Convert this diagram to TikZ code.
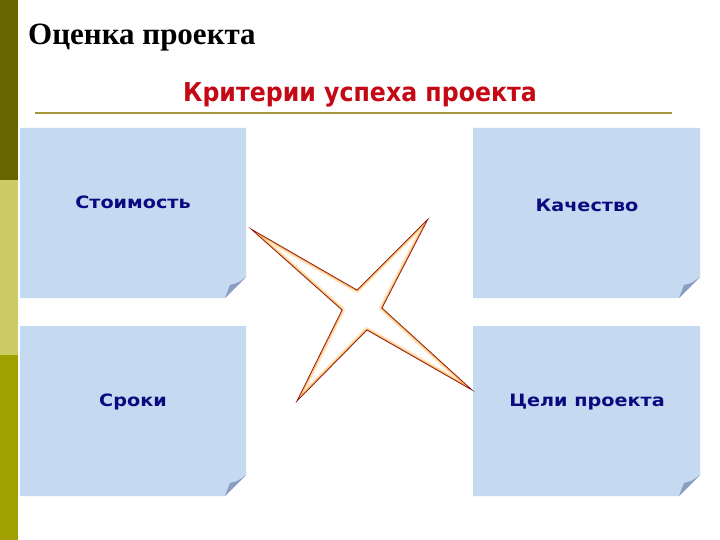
\documentclass[tikz,border=0pt]{standalone}
\usepackage{fontspec}
\setmainfont{Liberation Serif}
\newfontfamily\dvs{DejaVu Sans}
\usetikzlibrary{calc}
\definecolor{barA}{RGB}{102,102,0}
\definecolor{barB}{RGB}{204,204,102}
\definecolor{barC}{RGB}{160,160,0}
\definecolor{boxblue}{RGB}{197,217,241}
\definecolor{foldc}{RGB}{138,158,196}
\definecolor{rulec}{RGB}{168,150,60}
\definecolor{subred}{RGB}{196,8,20}
\definecolor{navy}{RGB}{10,10,128}
\definecolor{glow}{RGB}{255,176,80}
\definecolor{starline}{RGB}{130,20,20}
\tikzset{
  boxtext/.style={font=\dvs\bfseries\fontsize{17}{20}\selectfont, text=navy, inner sep=0pt},
  boxfill/.style={fill=boxblue},
  flap/.style={fill=foldc}
}
\newcommand{\foldbox}[5]{%
  % #1 name, #2 x1, #3 y1, #4 x2, #5 y2
  \coordinate (#1nw) at (#2,#3);
  \coordinate (#1se) at (#4,#5);
  \fill[boxfill] (#2,#3) -- (#4,#3) -- (#4,#5-21) -- (#4-21,#5) -- (#2,#5) -- cycle;
  \fill[flap] (#4-21,#5) -- (#4,#5-21) .. controls (#4-8,#5-15) .. (#4-16,#5-13) .. controls (#4-18,#5-8) .. cycle;
}
\begin{document}
\begin{tikzpicture}[x=1pt,y=-1pt]
\useasboundingbox (0,0) rectangle (720,540);
\fill[white] (0,0) rectangle (720,540);
% left bar
\fill[barA] (0,0) rectangle (18,180);
\fill[barB] (0,180) rectangle (18,355);
\fill[barC] (0,355) rectangle (18,540);
% title
\node[anchor=base west, inner sep=0pt, font=\bfseries\fontsize{31}{36}\selectfont] (title) at (28,45) {Оценка проекта};
% subtitle
\node[anchor=base west, inner sep=0pt, text=subred, font=\dvs\bfseries\fontsize{26}{30}\selectfont] (sub) at (183,102) {\scalebox{0.91}[1]{Критерии успеха проекта}};
\coordinate (ruleL) at (35,113);
\coordinate (ruleR) at (672,113);
\draw[rulec, line width=2pt] (ruleL) -- (ruleR);
% boxes
\foldbox{b1}{20}{128}{246}{298}
\foldbox{b2}{473}{128}{700}{298}
\foldbox{b3}{20}{326}{246}{496}
\foldbox{b4}{473}{326}{700}{496}
\node[boxtext] (t1) at (133,202) {\scalebox{1.13}[1]{Стоимость}};
\node[boxtext] (t2) at (587,205) {\scalebox{1.13}[1]{Качество}};
\node[boxtext] (t3) at (133,402) {\scalebox{1.13}[1]{Сроки}};
\node[boxtext] (t4) at (587,402) {\scalebox{1.13}[1]{Цели проекта}};
% star
\coordinate (s1) at (251,229);
\coordinate (s2) at (357,290);
\coordinate (s3) at (428,219);
\coordinate (s4) at (382,308);
\coordinate (s5) at (472,390);
\coordinate (s6) at (367,330);
\coordinate (s7) at (297,401);
\coordinate (s8) at (342,310);
\fill[white] (s1) -- (s2) -- (s3) -- (s4) -- (s5) -- (s6) -- (s7) -- (s8) -- cycle;
\begin{scope}
\clip (s1) -- (s2) -- (s3) -- (s4) -- (s5) -- (s6) -- (s7) -- (s8) -- cycle;
\draw[glow!30, line width=6pt, line join=round] (s1) -- (s2) -- (s3) -- (s4) -- (s5) -- (s6) -- (s7) -- (s8) -- cycle;
\draw[glow, line width=2.6pt, line join=round] (s1) -- (s2) -- (s3) -- (s4) -- (s5) -- (s6) -- (s7) -- (s8) -- cycle;
\end{scope}
\draw[starline, line width=0.7pt, line join=miter] (s1) -- (s2) -- (s3) -- (s4) -- (s5) -- (s6) -- (s7) -- (s8) -- cycle;
\end{tikzpicture}
\end{document}
